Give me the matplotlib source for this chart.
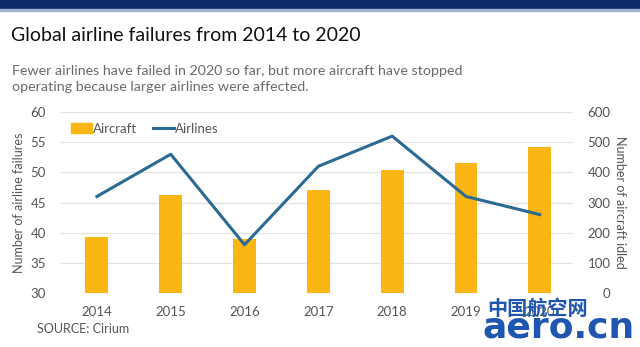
import matplotlib
matplotlib.use("Agg")
import matplotlib.pyplot as plt
from matplotlib.patches import Rectangle
from matplotlib.lines import Line2D

years = ["2014", "2015", "2016", "2017", "2018", "2019", "2020"]
aircraft_idled = [186, 326, 178, 343, 408, 432, 484]
airline_failures = [46, 53, 38, 51, 56, 46, 43]

left_ticks = [30, 35, 40, 45, 50, 55, 60]
right_ticks = [0, 100, 200, 300, 400, 500, 600]

BAR = "#FBB614"
LINE = "#2A6A93"
NAVY = "#0B2C66"
TXT = "#555555"
GRID = "#E3E3E3"

plt.rcParams["font.family"] = ["Lato", "DejaVu Sans"]

fig = plt.figure(figsize=(6.4, 3.47), dpi=100)
fig.patch.set_facecolor("white")

# header band
fig.add_artist(Rectangle((0, 1 - 9 / 347), 1, 9 / 347, transform=fig.transFigure,
                         color=NAVY, zorder=0))
fig.add_artist(Rectangle((0, 1 - 11 / 347), 1, 2 / 347, transform=fig.transFigure,
                         color="#9FB4D0", zorder=0))

fig.text(11 / 640, 1 - 41 / 347, "Global airline failures from 2014 to 2020",
         fontsize=14.0, color="#111111", va="baseline", ha="left")
fig.text(12 / 640, 1 - 75 / 347,
         "Fewer airlines have failed in 2020 so far, but more aircraft have stopped",
         fontsize=10.3, color="#6b6b6b", va="baseline", ha="left")
fig.text(12 / 640, 1 - 91 / 347,
         "operating because larger airlines were affected.",
         fontsize=10.3, color="#6b6b6b", va="baseline", ha="left")

ax = fig.add_axes([60 / 640, 1 - 293 / 347, 513 / 640, 181 / 347])
ax2 = ax.twinx()

x = list(range(len(years)))
ax2.bar(x, aircraft_idled, width=0.31, color=BAR, zorder=2)
ax.plot(x, airline_failures, color=LINE, lw=2.2, zorder=3)

ax.set_zorder(ax2.get_zorder() + 1)
ax.patch.set_visible(False)

ax.set_ylim(30, 60)
ax2.set_ylim(0, 600)
ax.set_xlim(-0.5, 6.45)
ax.set_yticks(left_ticks)
ax2.set_yticks(right_ticks)
ax.set_xticks(x)
ax.set_xticklabels(years)

for a in (ax, ax2):
    for s in a.spines.values():
        s.set_visible(False)
    a.tick_params(length=0, labelsize=9.5, colors=TXT)

ax2.yaxis.grid(True, color=GRID, lw=0.9)
ax2.set_axisbelow(True)
ax.tick_params(axis="y", pad=10)
ax.tick_params(axis="x", pad=9)
for lbl in ax2.get_yticklabels():
    lbl.set_horizontalalignment("right")
ax2.tick_params(axis="y", pad=27)

ax.set_ylabel("Number of airline failures", fontsize=9, color=TXT, labelpad=4)
ax2.set_ylabel("Number of aircraft idled", fontsize=9, color=TXT, rotation=270,
               labelpad=11)

handles = [Rectangle((0, 0), 1, 0.6, color=BAR),
           Line2D([0], [0], color=LINE, lw=2.2)]
ax.legend(handles, ["Aircraft", "Airlines"], loc="upper left", ncol=2, frameon=False,
          fontsize=9.5, labelcolor=TXT, bbox_to_anchor=(0.0, 1.0),
          handlelength=1.6, handletextpad=0.1, columnspacing=1.2,
          borderaxespad=0.4)

fig.text(37 / 640, 1 - 329 / 347, "SOURCE: Cirium", fontsize=9, color=TXT,
         va="center", ha="left")

# watermark
fig.text(487 / 640, 1 - 308 / 347, "中国航空网", fontsize=14.5, color="#1E56B0",
         fontweight="bold", family=["Noto Sans CJK SC", "DejaVu Sans"],
         va="center", ha="left")
fig.text(482 / 640, 1 - 327 / 347, "aero.cn", fontsize=26, color="#1E56B0",
         fontweight="heavy", family=["DejaVu Sans"], va="center", ha="left")

fig.savefig("out.png", dpi=100, facecolor="white")
